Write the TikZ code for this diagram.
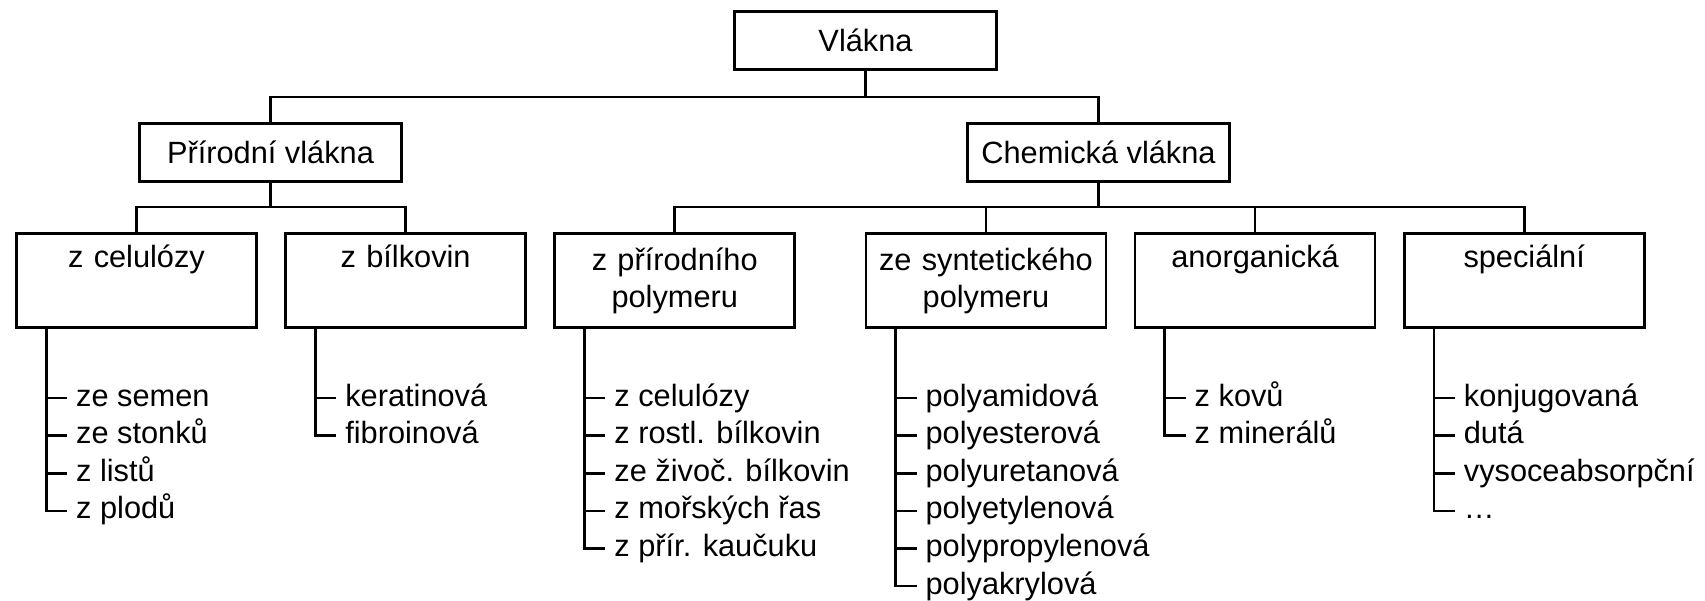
\documentclass[tikz,border=0pt]{standalone}
\usepackage{fontspec}
\setmainfont{Liberation Sans}
\usetikzlibrary{positioning}

\begin{document}
\begin{tikzpicture}[
font=\fontsize{17.5}{21}\selectfont,
line width=1.5pt,
node distance=0.53cm,
box/.style={draw, minimum width=5.25cm, minimum height=1.16cm, align=center},
catbox/.style={draw, minimum width=4.8cm, minimum height=1.89cm, text width=4.6cm, align=center, inner sep=0pt},
item/.style={anchor=west, text height=0.536cm, text depth=0.216cm, inner xsep=0.18cm, inner ysep=0pt, outer sep=0pt}
]
\useasboundingbox (0,0) rectangle (34.1,-12);

\node[box] (root) at (17.31,-0.81) {Vlákna};
\node[box] (nat) at (5.41,-3.05) {Přírodní vlákna};
\node[box] (chem) at (21.97,-3.05) {Chemická vlákna};

\node[catbox] (cel) at (2.73,-5.61) {z celulózy\\\strut};
\node[catbox, right=of cel] (bil) {z bílkovin\\\strut};
\node[catbox, right=of bil] (ppol) {z přírodního\\polymeru};
\node[catbox, right=1.37cm of ppol] (spol) {ze syntetického\\polymeru};
\node[catbox, right=of spol] (anorg) {anorganická\\\strut};
\node[catbox, right=of anorg] (spec) {speciální\\\strut};

\draw (root.south) -- ++(0,-0.52) -| (nat.north);
\draw (root.south) -- ++(0,-0.52) -| (chem.north);
\draw (nat.south) -- ++(0,-0.48) -| (cel.north);
\draw (nat.south) -- ++(0,-0.48) -| (bil.north);
\draw (chem.south) -- ++(0,-0.48) -| (ppol.north);
\draw (chem.south) -- ++(0,-0.48) -| (spol.north);
\draw (chem.south) -- ++(0,-0.48) -| (anorg.north);
\draw (chem.south) -- ++(0,-0.48) -| (spec.north);

% z celulozy
\node[item] (cel1) at ([shift={(1.04,-1.38)}]cel.south west) {ze semen};
\node[item, below=0pt of cel1.south west, anchor=north west] (cel2) {ze stonků};
\node[item, below=0pt of cel2.south west, anchor=north west] (cel3) {z listů};
\node[item, below=0pt of cel3.south west, anchor=north west] (cel4) {z plodů};
\draw ([xshift=0.62cm]cel.south west) |- (cel1.west);
\draw ([xshift=0.62cm]cel.south west) |- (cel2.west);
\draw ([xshift=0.62cm]cel.south west) |- (cel3.west);
\draw ([xshift=0.62cm]cel.south west) |- (cel4.west);

% z bilkovin
\node[item] (bil1) at ([shift={(1.04,-1.38)}]bil.south west) {keratinová};
\node[item, below=0pt of bil1.south west, anchor=north west] (bil2) {fibroinová};
\draw ([xshift=0.62cm]bil.south west) |- (bil1.west);
\draw ([xshift=0.62cm]bil.south west) |- (bil2.west);

% z prirodniho polymeru
\node[item] (ppol1) at ([shift={(1.04,-1.38)}]ppol.south west) {z celulózy};
\node[item, below=0pt of ppol1.south west, anchor=north west] (ppol2) {z rostl. bílkovin};
\node[item, below=0pt of ppol2.south west, anchor=north west] (ppol3) {ze živoč. bílkovin};
\node[item, below=0pt of ppol3.south west, anchor=north west] (ppol4) {z mořských řas};
\node[item, below=0pt of ppol4.south west, anchor=north west] (ppol5) {z přír. kaučuku};
\draw ([xshift=0.62cm]ppol.south west) |- (ppol1.west);
\draw ([xshift=0.62cm]ppol.south west) |- (ppol2.west);
\draw ([xshift=0.62cm]ppol.south west) |- (ppol3.west);
\draw ([xshift=0.62cm]ppol.south west) |- (ppol4.west);
\draw ([xshift=0.62cm]ppol.south west) |- (ppol5.west);

% ze syntetickeho polymeru
\node[item] (spol1) at ([shift={(1.04,-1.38)}]spol.south west) {polyamidová};
\node[item, below=0pt of spol1.south west, anchor=north west] (spol2) {polyesterová};
\node[item, below=0pt of spol2.south west, anchor=north west] (spol3) {polyuretanová};
\node[item, below=0pt of spol3.south west, anchor=north west] (spol4) {polyetylenová};
\node[item, below=0pt of spol4.south west, anchor=north west] (spol5) {polypropylenová};
\node[item, below=0pt of spol5.south west, anchor=north west] (spol6) {polyakrylová};
\draw ([xshift=0.62cm]spol.south west) |- (spol1.west);
\draw ([xshift=0.62cm]spol.south west) |- (spol2.west);
\draw ([xshift=0.62cm]spol.south west) |- (spol3.west);
\draw ([xshift=0.62cm]spol.south west) |- (spol4.west);
\draw ([xshift=0.62cm]spol.south west) |- (spol5.west);
\draw ([xshift=0.62cm]spol.south west) |- (spol6.west);

% anorganicka
\node[item] (anorg1) at ([shift={(1.04,-1.38)}]anorg.south west) {z kovů};
\node[item, below=0pt of anorg1.south west, anchor=north west] (anorg2) {z minerálů};
\draw ([xshift=0.62cm]anorg.south west) |- (anorg1.west);
\draw ([xshift=0.62cm]anorg.south west) |- (anorg2.west);

% specialni
\node[item] (spec1) at ([shift={(1.04,-1.38)}]spec.south west) {konjugovaná};
\node[item, below=0pt of spec1.south west, anchor=north west] (spec2) {dutá};
\node[item, below=0pt of spec2.south west, anchor=north west] (spec3) {vysoceabsorpční};
\node[item, below=0pt of spec3.south west, anchor=north west] (spec4) {\ldots};
\draw ([xshift=0.62cm]spec.south west) |- (spec1.west);
\draw ([xshift=0.62cm]spec.south west) |- (spec2.west);
\draw ([xshift=0.62cm]spec.south west) |- (spec3.west);
\draw ([xshift=0.62cm]spec.south west) |- (spec4.west);
\end{tikzpicture}
\end{document}
